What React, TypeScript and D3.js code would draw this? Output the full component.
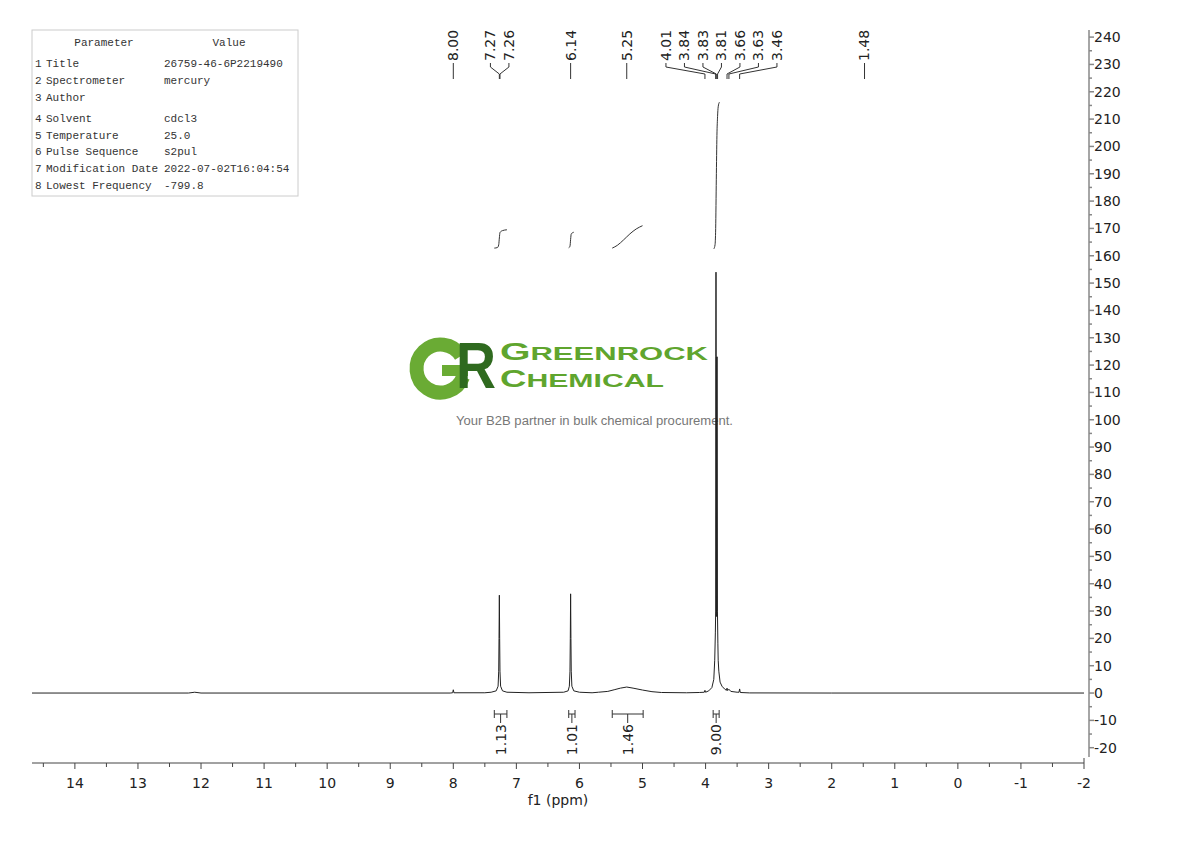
import React from 'react';
import * as d3 from 'd3';

// spectrum trace: [ppm, intensity]
const spectrum: [number, number][] = [
  [14.68, 0], [12.2, 0], [12.1, 0.3], [12.0, 0], [8.05, 0], [8.01, 0.1], [8.0, 1.2], [7.99, 0.1],
  [7.5, 0.1], [7.4, 0.3], [7.32, 0.8], [7.29, 2.5], [7.28, 8], [7.275, 20], [7.27, 35.8],
  [7.265, 20], [7.26, 8], [7.25, 2.5], [7.22, 0.8], [7.15, 0.3], [6.8, 0.1],
  [6.25, 0.3], [6.18, 0.8], [6.16, 2.5], [6.15, 8], [6.145, 20], [6.14, 36.3], [6.135, 20],
  [6.13, 8], [6.12, 2.5], [6.09, 0.8], [6.0, 0.3], [5.8, 0.1],
  [5.7, 0.3], [5.55, 0.6], [5.45, 1.2], [5.35, 1.8], [5.25, 2.2], [5.15, 1.8], [5.0, 1.1],
  [4.85, 0.5], [4.7, 0.2], [4.3, 0.1], [4.1, 0.2], [4.02, 0.3], [4.01, 1.0], [4.0, 0.3],
  [3.95, 0.8], [3.9, 2.0], [3.87, 5], [3.855, 12], [3.845, 22], [3.84, 30], [3.838, 123],
  [3.835, 154], [3.832, 123], [3.828, 28], [3.825, 123], [3.815, 123], [3.812, 30],
  [3.805, 18], [3.8, 12], [3.79, 8], [3.77, 4], [3.74, 2.5], [3.7, 1.5], [3.67, 1.0],
  [3.66, 1.8], [3.65, 0.9], [3.63, 1.4], [3.6, 0.6], [3.5, 0.3], [3.47, 0.3], [3.46, 1.5],
  [3.45, 0.2], [3.3, 0.05], [2.0, 0], [-2, 0],
];

// integral curves [ppm, level on the intensity scale]
const integralCurves: [number, number][][] = [
  [[7.35, 162.8], [7.3, 163.0], [7.28, 164], [7.27, 166.5], [7.26, 168.5], [7.22, 169.2], [7.15, 169.5]],
  [[6.17, 162.9], [6.15, 163.5], [6.14, 166], [6.13, 168], [6.09, 168.6]],
  [[5.48, 162.8], [5.4, 163.8], [5.3, 165.8], [5.2, 168.0], [5.1, 169.8], [5.0, 171.0]],
  [[3.87, 162.5], [3.85, 164], [3.84, 170], [3.83, 188], [3.82, 204], [3.81, 211], [3.8, 214.5], [3.78, 216.2]],
];

const integralRanges: [number, number][] = [[7.35, 7.15], [6.17, 6.07], [5.48, 4.99], [3.88, 3.785]];
const integralValues = ['1.13', '1.01', '1.46', '9.00'];

const peakLabels = [8.0, 7.27, 7.26, 6.14, 5.25, 4.01, 3.84, 3.83, 3.81, 3.66, 3.63, 3.46, 1.48];

const paramNames = ['Title', 'Spectrometer', 'Author', 'Solvent', 'Temperature', 'Pulse Sequence', 'Modification Date', 'Lowest Frequency'];
const paramValues = ['26759-46-6P2219490', 'mercury', '', 'cdcl3', '25.0', 's2pul', '2022-07-02T16:04:54', '-799.8'];
const paramRowY = [63, 80, 97, 118, 135, 151, 168, 185];

const W = 1190;
const H = 841;
const axisFont = "'DejaVu Sans', Verdana, sans-serif";

const x = d3.scaleLinear().domain([14.68, -2]).range([32, 1084]);
const y = d3.scaleLinear().domain([-23.4, 242.6]).range([757, 30]);

// spread overlapping peak labels evenly around their group centre
function layoutLabels(ppms: number[], gap: number) {
  const px = ppms.map(p => x(p));
  const groups: number[][] = [];
  px.forEach((v, i) => {
    const g = groups[groups.length - 1];
    if (g && v - px[g[g.length - 1]] < gap) g.push(i);
    else groups.push([i]);
  });
  const out: number[] = [];
  groups.forEach(g => {
    const mean = d3.mean(g, i => px[i]) as number;
    g.forEach((i, k) => { out[i] = mean + (k - (g.length - 1) / 2) * gap; });
  });
  return out;
}

const App: React.FC = () => {
  const line = d3.line<[number, number]>().x(d => x(d[0])).y(d => y(d[1]));
  const integralLine = d3.line<[number, number]>().x(d => x(d[0])).y(d => y(d[1])).curve(d3.curveMonotoneX);
  const labelX = layoutLabels(peakLabels, 18.5);

  const xMajor = d3.range(14, -2.5, -1);
  const xMinor = d3.range(14.5, -2, -1);
  const yMajor = d3.range(-20, 241, 10);
  const yMinor = d3.range(-15, 241, 10);

  return (
    <div style={{ position: 'absolute', left: 0, top: 0 }}>
      <svg width={W} height={H} style={{ display: 'block', background: '#fff' }}>
        {/* parameter table */}
        <g fontFamily="'Liberation Mono', monospace" fontSize={11} fill="#333">
          <rect x={32} y={30} width={266} height={166} fill="none" stroke="#ccc" />
          <text x={104} y={46} textAnchor="middle">Parameter</text>
          <text x={229} y={46} textAnchor="middle">Value</text>
          {paramNames.map((n, i) => (
            <g key={n}>
              <text x={35} y={paramRowY[i] + 4}>{i + 1}</text>
              <text x={46} y={paramRowY[i] + 4}>{n}</text>
              <text x={164} y={paramRowY[i] + 4}>{paramValues[i]}</text>
            </g>
          ))}
        </g>

        {/* watermark logo */}
        <g>
          <path d="M 461 356 A 24 24 0 1 0 463 377" fill="none" stroke="#6aab34" strokeWidth={14} />
          <rect x={442} y={365} width={26} height={11} fill="#6aab34" />
          <text x={456} y={388} fontFamily="'Liberation Sans', Arial, sans-serif" fontWeight="bold" fontSize={64}
            textLength={40} lengthAdjust="spacingAndGlyphs" fill="#2f6a1f">R</text>
          <text x={500} y={360} fontFamily="'Liberation Sans', Arial, sans-serif" fontWeight="bold" fill="#5fa52e"
            textLength={208} lengthAdjust="spacingAndGlyphs">
            <tspan fontSize={24}>G</tspan><tspan fontSize={19}>REENROCK</tspan>
          </text>
          <text x={500} y={387} fontFamily="'Liberation Sans', Arial, sans-serif" fontWeight="bold" fill="#5fa52e"
            textLength={164} lengthAdjust="spacingAndGlyphs">
            <tspan fontSize={23}>C</tspan><tspan fontSize={19}>HEMICAL</tspan>
          </text>
          <text x={456} y={425} fontFamily="'Liberation Sans', Arial, sans-serif"
            fontSize={12.5} fill="#777" textLength={277} lengthAdjust="spacingAndGlyphs">
            Your B2B partner in bulk chemical procurement.
          </text>
        </g>

        {/* spectrum */}
        <path d={line(spectrum) || ''} fill="none" stroke="#222" strokeWidth={1} />

        {/* integral curves */}
        {integralCurves.map((c, i) => (
          <path key={i} d={integralLine(c) || ''} fill="none" stroke="#333" strokeWidth={1} />
        ))}

        {/* integral brackets */}
        <g stroke="#333" strokeWidth={1} fill="none">
          {integralRanges.map(([a, b], i) => {
            const x0 = x(a), x1 = x(b), xc = (x0 + x1) / 2;
            return (
              <g key={i}>
                <line x1={x0} x2={x1} y1={714} y2={714} />
                <line x1={x0} x2={x0} y1={710} y2={718} />
                <line x1={x1} x2={x1} y1={710} y2={718} />
                <line x1={xc} x2={xc} y1={714} y2={723} />
              </g>
            );
          })}
        </g>
        <g fontFamily={axisFont} fontSize={14} fill="#222">
          {integralRanges.map(([a, b], i) => {
            const xc = (x(a) + x(b)) / 2;
            return (
              <text key={i} transform={`translate(${xc},${724}) rotate(-90)`} textAnchor="end" dy="0.35em">
                {integralValues[i]}
              </text>
            );
          })}
        </g>

        {/* peak labels */}
        <g fontFamily={axisFont} fontSize={14} fill="#222">
          {peakLabels.map((p, i) => (
            <text key={i} transform={`translate(${labelX[i]},${61}) rotate(-90)`} dy="0.35em">
              {p.toFixed(2)}
            </text>
          ))}
        </g>
        <g stroke="#333" strokeWidth={1} fill="none">
          {peakLabels.map((p, i) => (
            <polyline key={i}
              points={`${labelX[i]},63 ${labelX[i]},67 ${x(p)},74 ${x(p)},79`} />
          ))}
        </g>

        {/* bottom ppm axis */}
        <g stroke="#444" strokeWidth={1}>
          <line x1={32} x2={1084} y1={763} y2={763} />
          <line x1={1084} x2={1084} y1={758} y2={763} />
          {xMajor.map(v => <line key={'M' + v} x1={x(v)} x2={x(v)} y1={763} y2={769} />)}
          {xMinor.map(v => <line key={'m' + v} x1={x(v)} x2={x(v)} y1={763} y2={767} />)}
        </g>
        <g fontFamily={axisFont} fontSize={14} fill="#222" textAnchor="middle">
          {xMajor.map(v => <text key={v} x={x(v)} y={788}>{String(v)}</text>)}
          <text x={558} y={805}>f1 (ppm)</text>
        </g>

        {/* right intensity axis */}
        <g stroke="#888" strokeWidth={1.5}>
          <line x1={1089} x2={1089} y1={30} y2={757} />
          {yMajor.map(v => <line key={'M' + v} x1={1089} x2={1094} y1={y(v)} y2={y(v)} />)}
          {yMinor.map(v => <line key={'m' + v} x1={1089} x2={1092} y1={y(v)} y2={y(v)} />)}
        </g>
        <g fontFamily={axisFont} fontSize={14} fill="#222">
          {yMajor.map(v => <text key={v} x={1094} y={y(v)} dy="0.35em">{String(v)}</text>)}
        </g>
      </svg>
    </div>
  );
};

export default App;
